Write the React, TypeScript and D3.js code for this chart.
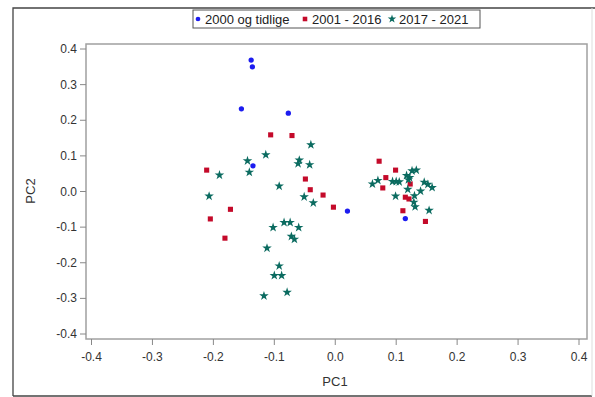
import React, { useEffect, useRef } from 'react'
import * as d3 from 'd3'

// PC1 / PC2 scores
const early = [
  [-0.138, 0.369], [-0.136, 0.35], [-0.154, 0.232], [-0.077, 0.22],
  [-0.135, 0.072], [0.02, -0.055], [0.115, -0.076],
]

const middle = [
  [-0.106, 0.159], [-0.071, 0.157], [-0.211, 0.06], [-0.049, 0.035],
  [-0.041, 0.005], [-0.02, -0.01], [-0.003, -0.044], [-0.172, -0.05],
  [-0.205, -0.077], [-0.181, -0.131],
  [0.072, 0.085], [0.099, 0.06], [0.083, 0.039], [0.078, 0.01],
  [0.123, 0.021], [0.115, -0.016], [0.121, -0.021], [0.111, -0.054],
  [0.148, -0.084],
]

const recent = [
  [-0.04, 0.131], [-0.114, 0.103], [-0.144, 0.086], [-0.141, 0.054],
  [-0.19, 0.046], [-0.059, 0.088], [-0.061, 0.078], [-0.042, 0.075],
  [-0.092, 0.015], [-0.207, -0.013], [-0.051, -0.015], [-0.036, -0.032],
  [-0.084, -0.087], [-0.074, -0.087], [-0.102, -0.101], [-0.06, -0.101],
  [-0.072, -0.126], [-0.067, -0.134], [-0.112, -0.159], [-0.092, -0.209],
  [-0.1, -0.236], [-0.088, -0.236], [-0.117, -0.293], [-0.079, -0.283],
  [0.061, 0.021], [0.07, 0.031], [0.094, 0.028], [0.1, 0.028],
  [0.105, 0.027], [0.117, 0.045], [0.122, 0.039], [0.126, 0.058],
  [0.133, 0.06], [0.119, 0.006], [0.099, -0.013], [0.13, -0.012],
  [0.14, 0.001], [0.146, 0.026], [0.152, 0.02], [0.159, 0.011],
  [0.129, -0.03], [0.131, -0.043], [0.154, -0.053], [0.12, 0.033],
]

const ticks = [-0.4, -0.3, -0.2, -0.1, 0, 0.1, 0.2, 0.3, 0.4]

const seriesNames = ['2000 og tidlige', '2001 - 2016', '2017 - 2021']
const colors = ['#1c1cf0', '#c40a2a', '#0b6b60']

const App = () => {
  const svgRef = useRef(null)

  useEffect(() => {
    const svg = d3.select(svgRef.current)
    svg.selectAll('*').remove()

    const x = d3.scaleLinear().domain([-0.4, 0.4]).range([91.5, 579])
    const y = d3.scaleLinear().domain([-0.4, 0.4]).range([334, 49])

    const font = 'Liberation Sans, Arial, sans-serif'

    // outer border
    svg.append('path').attr('d', 'M13,396 L13,8 L595,8').attr('fill', 'none').attr('stroke', '#444').attr('stroke-width', 1.3)
    svg.append('line').attr('x1', 13).attr('x2', 592).attr('y1', 396).attr('y2', 396).attr('stroke', '#444').attr('stroke-width', 1.3)
    svg.append('line').attr('x1', 592).attr('x2', 592).attr('y1', 8).attr('y2', 396).attr('stroke', '#ddd')

    // plot frame
    svg.append('rect').attr('x', 86).attr('y', 44).attr('width', 501).attr('height', 295)
      .attr('fill', 'none').attr('stroke', '#a0a0a0').attr('stroke-width', 1.5)

    const xTicks = svg.append('g')
    ticks.forEach(t => {
      xTicks.append('line').attr('x1', x(t)).attr('x2', x(t)).attr('y1', 339).attr('y2', 345).attr('stroke', '#888')
      xTicks.append('text').attr('x', x(t)).attr('y', 361).attr('text-anchor', 'middle')
        .attr('font-family', font).attr('font-size', 12).attr('fill', '#333').text(t.toFixed(1))
    })
    const yTicks = svg.append('g')
    ticks.forEach(t => {
      yTicks.append('line').attr('x1', 80).attr('x2', 86).attr('y1', y(t)).attr('y2', y(t)).attr('stroke', '#888')
      yTicks.append('text').attr('x', 77).attr('y', y(t) + 4).attr('text-anchor', 'end')
        .attr('font-family', font).attr('font-size', 12).attr('fill', '#333').text(t.toFixed(1))
    })

    svg.append('text').attr('x', 335).attr('y', 386).attr('text-anchor', 'middle')
      .attr('font-family', font).attr('font-size', 13).attr('fill', '#333').text('PC1')
    svg.append('text').attr('transform', 'translate(35,191) rotate(-90)').attr('text-anchor', 'middle')
      .attr('font-family', font).attr('font-size', 13).attr('fill', '#333').text('PC2')

    const shapes = [d3.symbolCircle, d3.symbolSquare, d3.symbolStar]
    const sizes = [22, 26, 28]
    const groups = [early, middle, recent]

    groups.forEach((pts, i) => {
      svg.append('g').selectAll('path').data(pts).join('path')
        .attr('transform', d => `translate(${x(d[0])},${y(d[1])})`)
        .attr('d', d3.symbol().type(shapes[i]).size(sizes[i])())
        .attr('fill', colors[i])
    })

    // legend
    const legend = svg.append('g')
    legend.append('rect').attr('x', 193).attr('y', 10).attr('width', 287).attr('height', 18)
      .attr('fill', '#fff').attr('stroke', '#555')
    const itemX = [198, 305, 392]
    seriesNames.forEach((name, i) => {
      legend.append('path').attr('transform', `translate(${itemX[i]},19)`)
        .attr('d', d3.symbol().type(shapes[i]).size(sizes[i] * 0.8)()).attr('fill', colors[i])
      legend.append('text').attr('x', itemX[i] + 7).attr('y', 24)
        .attr('font-family', font).attr('font-size', 13).attr('fill', '#222').text(name)
    })
  }, [])

  return (
    <svg ref={svgRef} width={595} height={397} style={{ position: 'absolute', left: 0, top: 0, background: '#fff' }} />
  )
}

export default App
